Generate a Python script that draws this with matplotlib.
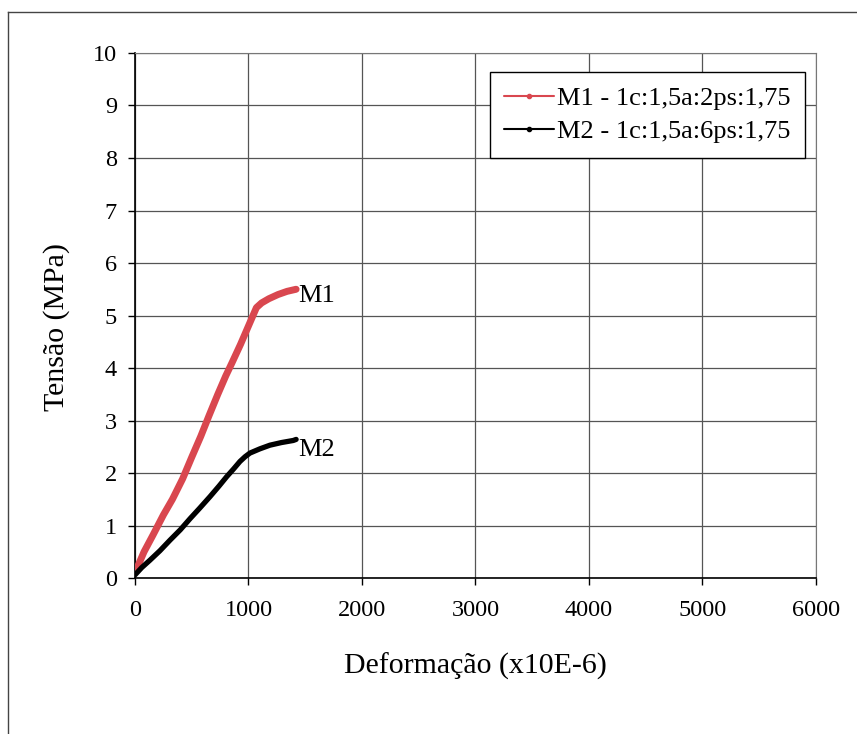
import matplotlib
matplotlib.use("Agg")
import matplotlib.pyplot as plt
from matplotlib.lines import Line2D

# Data
m1_x = [0, 30, 80, 159, 250, 330, 420, 500, 580, 652, 730, 800, 855, 930, 1000,
        1040, 1070, 1116, 1180, 1261, 1340, 1420]
m1_y = [0.12, 0.25, 0.5, 0.82, 1.2, 1.5, 1.89, 2.3, 2.7, 3.09, 3.5, 3.85, 4.1,
        4.45, 4.8, 5.0, 5.15, 5.24, 5.32, 5.40, 5.46, 5.5]
m2_x = [0, 60, 132, 220, 308, 400, 485, 570, 661, 740, 808, 870, 925, 970, 1013,
        1100, 1189, 1290, 1395, 1420]
m2_y = [0.06, 0.2, 0.34, 0.52, 0.72, 0.92, 1.13, 1.33, 1.55, 1.75, 1.93, 2.08,
        2.22, 2.31, 2.38, 2.46, 2.53, 2.58, 2.62, 2.64]
labels = ["M1 - 1c:1,5a:2ps:1,75", "M2 - 1c:1,5a:6ps:1,75"]
curve_names = ["M1", "M2"]
curve_label_pos = [(1440, 5.38), (1440, 2.44)]
x_ticks = [0, 1000, 2000, 3000, 4000, 5000, 6000]
y_ticks = list(range(0, 11))

plt.rcParams['font.family'] = ['Liberation Serif', 'DejaVu Serif']

fig = plt.figure(figsize=(8.57, 7.34), dpi=100)
ax = fig.add_axes([0.1575, 0.2125, 0.952 - 0.1575, 0.9278 - 0.2125])

ax.plot(m1_x, m1_y, color='#d9474f', lw=5, solid_capstyle='round',
        solid_joinstyle='round', label=labels[0], zorder=3)
ax.plot(m2_x, m2_y, color='black', lw=3.8, solid_capstyle='round',
        solid_joinstyle='round', label=labels[1], zorder=3)

for name, (tx, ty) in zip(curve_names, curve_label_pos):
    ax.text(tx, ty, name, fontsize=19, va='center', ha='left', color='black')

ax.set_xlim(0, 6000)
ax.set_ylim(0, 10)
ax.set_xticks(x_ticks)
ax.set_yticks(y_ticks)
ax.grid(True, color='#555555', lw=0.9)
ax.set_axisbelow(True)
ax.tick_params(direction='out', length=5, width=1, labelsize=17.5)
ax.tick_params(axis='x', pad=11)
ax.tick_params(axis='y', pad=8)
for s in ['top', 'right']:
    ax.spines[s].set_color('#777777')
for s in ['left', 'bottom']:
    ax.spines[s].set_color('black')
    ax.spines[s].set_linewidth(1.2)

ax.set_xlabel("Deformação (x10E-6)", fontsize=21.5)
ax.set_ylabel("Tensão (MPa)", fontsize=21.5)
ax.xaxis.set_label_coords(0.5, -0.143)
ax.yaxis.set_label_coords(-0.095, 0.478)

leg = ax.legend(loc='upper right', bbox_to_anchor=(0.984, 0.964), borderaxespad=0,
                fontsize=19, frameon=True, fancybox=False, edgecolor='black',
                framealpha=1, handlelength=1.9, handletextpad=0.1, borderpad=0.55,
                labelspacing=0.38)
leg.get_frame().set_linewidth(1.0)
for h, c in zip(leg.legend_handles, ['#d9474f', 'black']):
    h.set_linewidth(1.5)
    h.set_marker('o')
    h.set_markersize(3)
    h.set_markerfacecolor(c)
    h.set_markeredgecolor(c)

# figure frame lines
fig.add_artist(Line2D([8/857, 8/857], [0, 1 - 12/734], transform=fig.transFigure,
                      color='#444444', lw=1))
fig.add_artist(Line2D([8/857, 1], [1 - 12/734, 1 - 12/734], transform=fig.transFigure,
                      color='#444444', lw=1))

fig.savefig("out.png", dpi=100)
